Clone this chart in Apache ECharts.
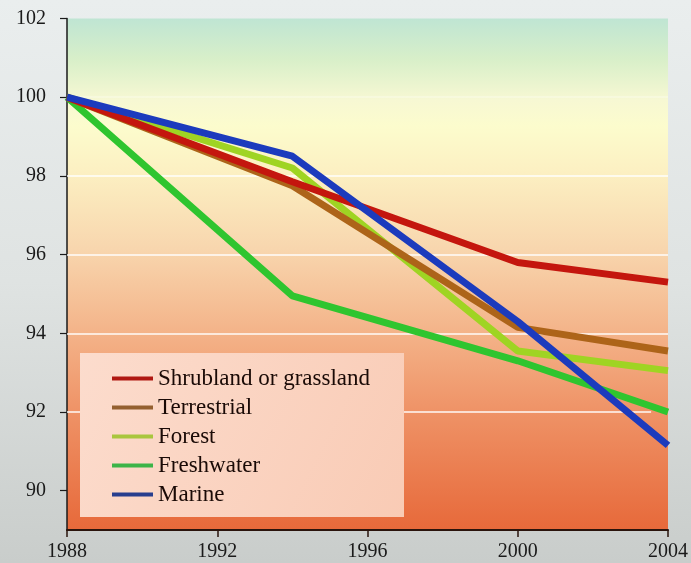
<!DOCTYPE html>
<html>
<head>
<meta charset="utf-8">
<script src="https://cdn.jsdelivr.net/npm/echarts@6/dist/echarts.min.js"></script>
<style>
html,body{margin:0;padding:0;}
body{width:691px;height:563px;background:linear-gradient(180deg,#eaeeee 0%,#dfe3e2 50%,#c9cdcb 100%);}
#chart{width:691px;height:563px;}
</style>
</head>
<body>
<div id="chart"></div>
<script>
// ---- data ----
const years = [1988, 1994, 2000, 2004];
const shrubland = [100, 97.85, 95.8, 95.3];
const terrestrial = [100, 97.75, 94.15, 93.55];
const forest = [100, 98.2, 93.55, 93.05];
const freshwater = [100, 94.95, 93.3, 92.0];
const marine = [100, 98.5, 94.3, 91.15];
const seriesNames = ['Shrubland or grassland', 'Terrestrial', 'Forest', 'Freshwater', 'Marine'];
const xTicks = [1988, 1992, 1996, 2000, 2004];
const yTicks = [90, 92, 94, 96, 98, 100, 102];
const gridLineValues = [94, 96, 98];

const colors = {
  'Shrubland or grassland': '#c4160e',
  'Terrestrial': '#ad6419',
  'Forest': '#9fd423',
  'Freshwater': '#2fc52f',
  'Marine': '#1c3bbd'
};
const legendColors = {
  'Shrubland or grassland': '#b01812',
  'Terrestrial': '#946030',
  'Forest': '#a9c63e',
  'Freshwater': '#3cb448',
  'Marine': '#283e8e'
};
const values = {
  'Shrubland or grassland': shrubland,
  'Terrestrial': terrestrial,
  'Forest': forest,
  'Freshwater': freshwater,
  'Marine': marine
};
const drawOrder = ['Freshwater', 'Forest', 'Terrestrial', 'Shrubland or grassland', 'Marine'];

const font = '"Liberation Serif", "DejaVu Serif", serif';
const chart = echarts.init(document.getElementById('chart'), null, {renderer: 'canvas'});

const series = drawOrder.map((name, i) => {
  const s = {
    name: name,
    type: 'line',
    data: years.map((y, k) => [y, values[name][k]]),
    symbol: 'none',
    lineStyle: {color: colors[name], width: 7},
    itemStyle: {color: legendColors[name]},
    z: 2 + i * 0.01,
    animation: false
  };
  if (i === 0) {
    s.markLine = {
      silent: true,
      symbol: 'none',
      z: 1,
      label: {show: false},
      lineStyle: {color: '#ffffff', width: 1.6, type: 'solid', opacity: 0.95},
      data: gridLineValues.map(v => ({yAxis: v})).concat([
        {yAxis: 100, lineStyle: {color: '#ffffff', width: 1.6, type: 'solid', opacity: 0.35}},
        [{coord: [1988, 92]}, {coord: [2003.55, 92]}]
      ])
    };
  }
  return s;
});

chart.setOption({
  backgroundColor: 'transparent',
  animation: false,
  grid: {
    left: 67, right: 19, top: 18.5, bottom: 33,
    show: true,
    borderWidth: 0,
    backgroundColor: new echarts.graphic.LinearGradient(0, 0, 0, 1, [
      {offset: 0, color: '#bfe5d3'},
      {offset: 0.08, color: '#d8efc9'},
      {offset: 0.16, color: '#f7f8d3'},
      {offset: 0.21, color: '#fcfccd'},
      {offset: 0.3, color: '#fcf0c2'},
      {offset: 0.45, color: '#f8d6ae'},
      {offset: 0.6, color: '#f4b68c'},
      {offset: 0.76, color: '#ef9468'},
      {offset: 1, color: '#e7693a'}
    ])
  },
  graphic: [{
    type: 'rect',
    z: 3,
    shape: {x: 80, y: 353, width: 324, height: 164},
    style: {
      fill: new echarts.graphic.LinearGradient(0, 0, 1, 1, [
        {offset: 0, color: '#fcdccd'},
        {offset: 1, color: '#f9cbb5'}
      ])
    }
  }],
  legend: {
    data: seriesNames,
    orient: 'vertical',
    left: 107,
    top: 362,
    icon: 'rect',
    itemWidth: 41,
    itemHeight: 4,
    itemGap: 6,
    z: 5,
    selectedMode: false,
    textStyle: {fontFamily: font, fontSize: 23, color: '#1a0a06', lineHeight: 20, padding: [0, 0, 0, 0]}
  },
  xAxis: {
    type: 'value',
    min: 1988,
    max: 2004,
    interval: 4,
    axisLine: {show: true, lineStyle: {color: '#2a140c', width: 2}},
    axisTick: {show: true, length: 7, inside: false, lineStyle: {color: '#2a140c', width: 1.5}},
    axisLabel: {fontFamily: font, fontSize: 20, color: '#1a1a1a', margin: 12, formatter: v => String(v), customValues: xTicks},
    splitLine: {show: false}
  },
  yAxis: {
    type: 'value',
    min: 89,
    max: 102,
    axisLine: {show: true, lineStyle: {color: '#1a1a1a', width: 1.5}},
    axisTick: {show: true, length: 7, inside: false, lineStyle: {color: '#1a1a1a', width: 1.2}, customValues: yTicks},
    axisLabel: {fontFamily: font, fontSize: 20, color: '#1a1a1a', margin: 21, customValues: yTicks},
    splitLine: {show: false}
  },
  series: series
});
</script>
</body>
</html>
